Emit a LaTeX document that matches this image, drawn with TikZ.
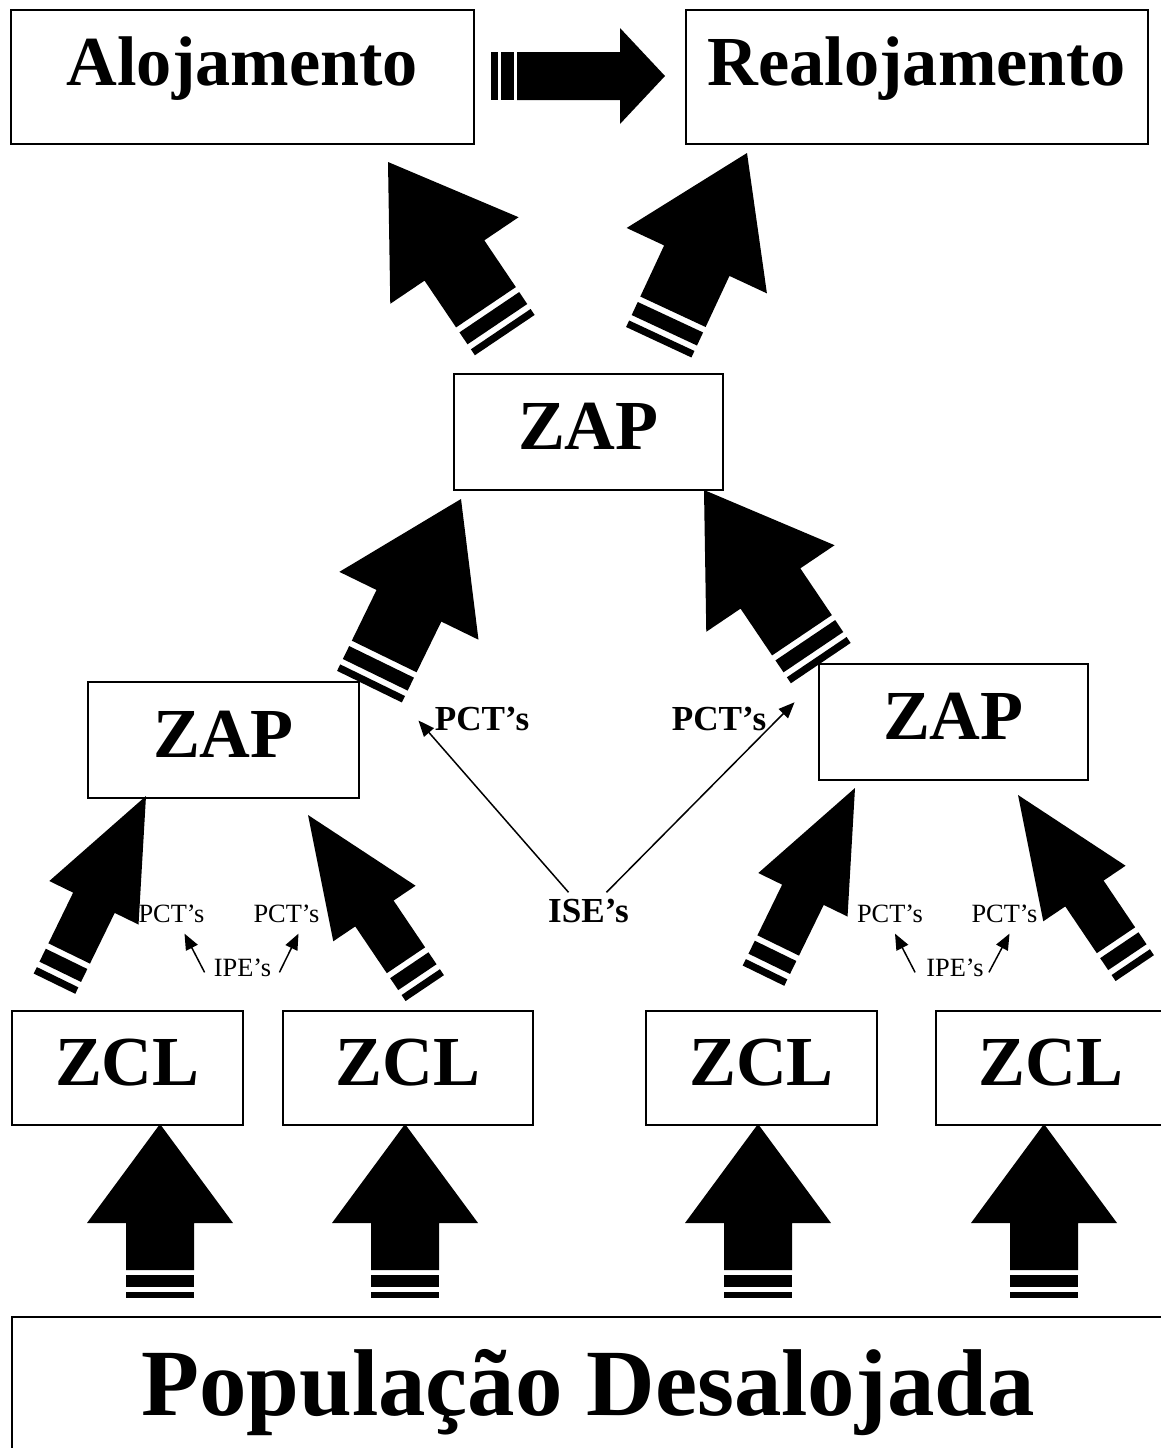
\documentclass[tikz,border=0pt]{standalone}
\usepackage{fontspec}
\setmainfont{Liberation Serif}
\usepackage{tikz}
\usetikzlibrary{
	arrows.meta,
	calc,
	positioning
}

\tikzset{
	zone/.style={draw, line width=0.35mm, inner sep=0pt, anchor=north west,
		font=\fontsize{40}{48}\selectfont\bfseries},
	tag/.style={inner sep=0pt, anchor=base, font=\fontsize{15}{18}\selectfont},
	bigtag/.style={inner sep=0pt, anchor=base, font=\fontsize{20}{24}\selectfont\bfseries},
	thinarrow/.style={line width=0.3mm, -{Triangle[length=3.2mm, width=2.6mm]}},
	bigarrow/.pic={
		\fill (0,0) -- (-99,73) -- (-99,34) -- (-146,34) -- (-146,-34) -- (-99,-34) -- (-99,-73) -- cycle;
		\fill (-151,-34) rectangle (-163,34);
		\fill (-168,-34) rectangle (-174,34);
	}
}

\begin{document}
\begin{tikzpicture}[x=0.2mm, y=0.2mm]
	\useasboundingbox (0,0) rectangle (1161,-1448);
	\clip (0,0) rectangle (1161,-1448);
	% 方框
	\node[zone, minimum width=92.6mm, text height=15.2mm, text depth=11.6mm] (aloj) at (10,-9) {Alojamento};
	\node[zone, minimum width=92.4mm, text height=15.2mm, text depth=11.6mm, right=42mm of aloj] (realoj) {Realojamento};
	\node[zone, minimum width=53.8mm, text height=15.2mm, text depth=8mm] (zap) at (453,-373) {ZAP};
	\node[zone, minimum width=54.2mm, text height=15.2mm, text depth=8mm] (zapL) at (87,-681) {ZAP};
	\node[zone, minimum width=53.8mm, text height=15.2mm, text depth=8mm] (zapR) at (818,-663) {ZAP};
	\node[zone, minimum width=46.2mm, text height=15mm, text depth=7.8mm] (zcl1) at (11,-1010) {ZCL};
	\node[zone, minimum width=50mm, text height=15mm, text depth=7.8mm, right=7.6mm of zcl1] (zcl2) {ZCL};
	\node[zone, minimum width=46.2mm, text height=15mm, text depth=7.8mm] (zcl3) at (645,-1010) {ZCL};
	\node[zone, minimum width=46.2mm, text height=15mm, text depth=7.8mm, right=11.4mm of zcl3] (zcl4) {ZCL};
	\node[zone, minimum width=230.4mm, text height=19.8mm, text depth=9mm,
		font=\fontsize{54}{64}\selectfont\bfseries] (pop) at (11,-1316) {População Desalojada};
	% 横向箭头
	\fill (665,-76) -- (620,-28) -- (620,-52) -- (517,-52) -- (517,-100) -- (620,-100) -- (620,-124) -- cycle;
	\fill (501,-52) rectangle (514,-100);
	\fill (491,-52) rectangle (498,-100);
	% 大箭头
	\foreach \x in {160,405,758,1044}
	\pic[rotate=90] at (\x,-1124) {bigarrow};
	\foreach \x/\y/\a in {388/-162/124, 747/-153/65, 461/-499/64, 704/-490/124}
	\pic[rotate=\a, xscale=1.2, yscale=1.06] at (\x,\y) {bigarrow};
	\foreach \x/\y/\a in {146/-796/64, 308/-815/124, 855/-788/64, 1018/-795/124}
	\pic[rotate=\a, xscale=1.2, yscale=0.68] at (\x,\y) {bigarrow};
	% 标签
	\node[bigtag] (pctL) at (482,-730) {PCT’s};
	\node[bigtag] (pctR) at (719,-730) {PCT’s};
	\node[bigtag] (ise) at (588.5,-922) {ISE’s};
	\node[tag] (pct1) at (171.5,-922) {PCT’s};
	\node[tag] (pct2) at (286.5,-922) {PCT’s};
	\node[tag] (ipe1) at (242.5,-976) {IPE’s};
	\node[tag] (pct3) at (890,-922) {PCT’s};
	\node[tag] (pct4) at (1004.5,-922) {PCT’s};
	\node[tag] (ipe2) at (955,-976) {IPE’s};
	% 细箭头
	\draw[thinarrow] ($(ise.north)+(-20,6)$) -- ($(pctL.west)+(-16,-2)$);
	\draw[thinarrow] ($(ise.north)+(18,6)$) -- ($(pctR.north east)+(28,4)$);
	\draw[thinarrow] ($(ipe1.west)+(-9,-5)$) -- ($(pct1.south)+(13,-11)$);
	\draw[thinarrow] ($(ipe1.east)+(8,-5)$) -- ($(pct2.south)+(12,-11)$);
	\draw[thinarrow] ($(ipe2.west)+(-11,-5)$) -- ($(pct3.south)+(5,-11)$);
	\draw[thinarrow] ($(ipe2.east)+(5,-5)$) -- ($(pct4.south)+(5,-11)$);
\end{tikzpicture}
\end{document}
